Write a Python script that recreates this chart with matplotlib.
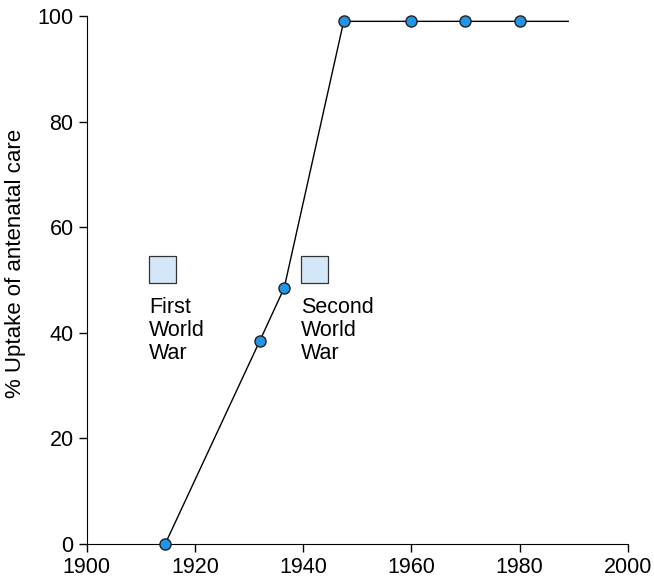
import matplotlib.pyplot as plt
from matplotlib.patches import Rectangle

plt.rcParams["font.family"] = ["Liberation Sans", "DejaVu Sans"]

years = [1914.5, 1932, 1936.5, 1947.5, 1960, 1970, 1980]
uptake = [0, 38.5, 48.5, 99, 99, 99, 99]
line_end = 1989

wars = ["First\nWorld\nWar", "Second\nWorld\nWar"]
war_box_x = [1911.5, 1939.6]
war_box_y = 49.4
war_box_w = 5.0
war_box_h = 5.2

fig = plt.figure(figsize=(6.54, 5.84), dpi=100)
ax = fig.add_axes([0.1326, 0.0685, 0.8272, 0.904])

ax.plot(years + [line_end], uptake + [uptake[-1]], color="black", lw=1, zorder=2)
ax.plot(years, uptake, "o", ms=8, mfc="#2196e8", mec="#222222", mew=1,
        clip_on=False, zorder=3)

for label, bx in zip(wars, war_box_x):
    ax.add_patch(Rectangle((bx, war_box_y), war_box_w, war_box_h,
                           facecolor="#d4e7f8", edgecolor="#333333", lw=0.9))
    ax.text(bx, 46.8, label, ha="left", va="top", fontsize=15.5,
            linespacing=1.12)

ax.set_xlim(1900, 2000)
ax.set_ylim(0, 100)
ax.set_xticks(range(1900, 2001, 20))
ax.set_yticks(range(0, 101, 20))
ax.spines["top"].set_visible(False)
ax.spines["right"].set_visible(False)
ax.tick_params(labelsize=15.5, length=6, width=1)
ax.set_ylabel("% Uptake of antenatal care", fontsize=16)
ax.yaxis.set_label_coords(-0.112, 0.532)

fig.savefig("out.png", dpi=100)
